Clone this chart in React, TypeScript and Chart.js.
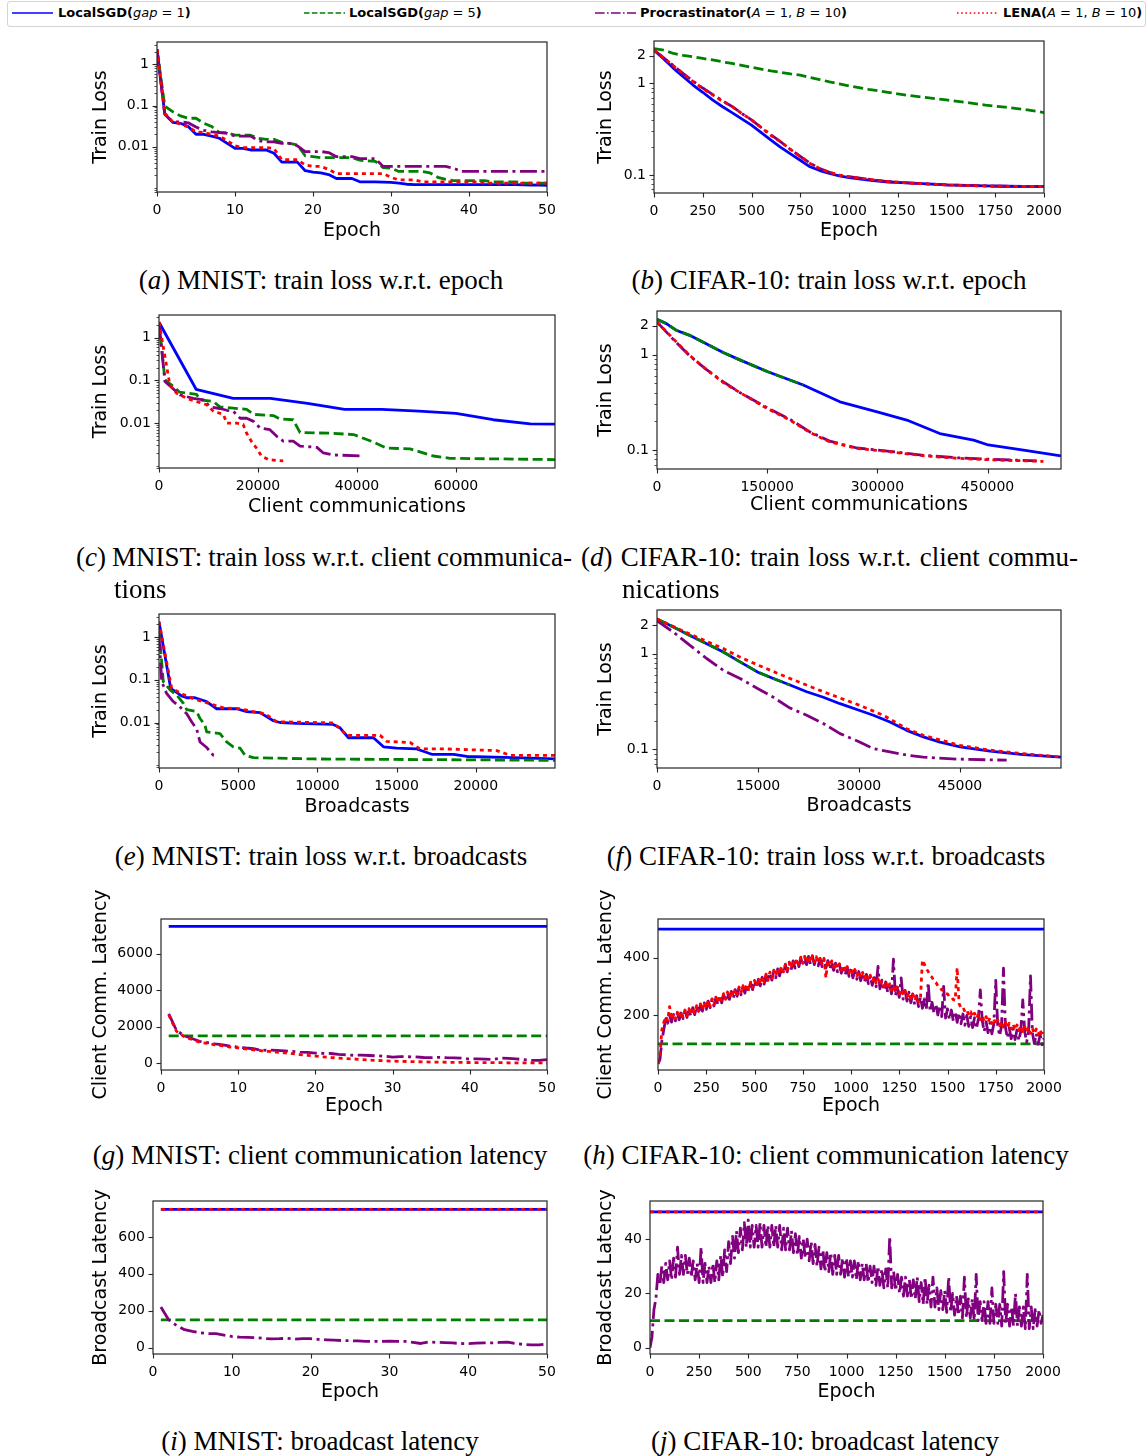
import React, { useEffect, useRef } from 'react';
import { Chart, registerables } from 'chart.js';

Chart.register(...registerables);

const SANS = "'DejaVu Sans', sans-serif";
const SERIF = "'Liberation Serif', 'Times New Roman', serif";

// ---------------- (a) MNIST: train loss vs epoch ----------------
const A_EPOCHS = Array.from({ length: 51 }, (_, i) => i);
const A_BLUE = [2.3, 0.061, 0.039, 0.037, 0.031, 0.02, 0.02, 0.018, 0.016, 0.012,
  0.0091, 0.0091, 0.0083, 0.0083, 0.0083, 0.0069, 0.0042, 0.0042, 0.0042, 0.0026,
  0.0024, 0.0023, 0.0021, 0.00168, 0.00168, 0.00168, 0.0014, 0.0014, 0.0014, 0.00138,
  0.00135, 0.0013, 0.00122, 0.0012, 0.0012, 0.0012, 0.0012, 0.0012, 0.0012, 0.0012,
  0.0012, 0.0012, 0.0012, 0.0012, 0.0012, 0.0012, 0.0012, 0.00118, 0.00117, 0.00116, 0.00115];
const A_GREEN = [2.3, 0.097, 0.071, 0.056, 0.049, 0.049, 0.037, 0.031, 0.022, 0.022,
  0.019, 0.019, 0.019, 0.016, 0.015, 0.015, 0.0128, 0.012, 0.011, 0.006,
  0.0057, 0.0054, 0.0054, 0.0054, 0.0054, 0.0054, 0.0047, 0.0045, 0.0044, 0.0031,
  0.003, 0.0025, 0.0025, 0.0025, 0.0025, 0.0023, 0.0018, 0.0016, 0.0015, 0.0015,
  0.0015, 0.0015, 0.0015, 0.0014, 0.0014, 0.0014, 0.0014, 0.0013, 0.0013, 0.0013, 0.0013];
const A_PURPLE = [2.3, 0.062, 0.04, 0.04, 0.038, 0.03, 0.025, 0.023, 0.022, 0.021,
  0.018, 0.018, 0.018, 0.014, 0.013, 0.013, 0.012, 0.012, 0.0105, 0.0076,
  0.0076, 0.0076, 0.0072, 0.0057, 0.0057, 0.0057, 0.0051, 0.0051, 0.0051, 0.0033,
  0.0033, 0.0033, 0.0033, 0.0033, 0.0033, 0.0033, 0.0033, 0.0033, 0.003, 0.0025,
  0.0025, 0.0025, 0.0025, 0.0025, 0.0025, 0.0025, 0.0025, 0.0025, 0.0025, 0.0025, 0.0025];
const A_RED = [2.3, 0.065, 0.04, 0.036, 0.03, 0.023, 0.022, 0.02, 0.018, 0.014,
  0.0105, 0.0095, 0.0095, 0.0095, 0.0095, 0.009, 0.0048, 0.0048, 0.0048, 0.0036,
  0.0033, 0.0033, 0.0028, 0.0022, 0.0022, 0.0022, 0.0022, 0.0022, 0.0022, 0.0022,
  0.0018, 0.00155, 0.00155, 0.00155, 0.0014, 0.0014, 0.0014, 0.0014, 0.0014, 0.0014,
  0.0014, 0.0014, 0.0013, 0.0013, 0.0013, 0.0013, 0.0013, 0.0013, 0.0013, 0.0013, 0.0013];

// ---------------- (b) CIFAR-10: train loss vs epoch ----------------
const B_EPOCHS = [0, 50, 100, 150, 200, 250, 300, 350, 400, 450, 500, 550, 600, 650, 700, 750,
  800, 850, 900, 950, 1000, 1100, 1200, 1300, 1400, 1500, 1600, 1700, 1800, 1900, 2000];
const B_BLUE = [2.3, 1.85, 1.46, 1.18, 0.96, 0.8, 0.66, 0.56, 0.48, 0.41, 0.35, 0.29, 0.24, 0.2, 0.17, 0.145,
  0.123, 0.112, 0.104, 0.098, 0.094, 0.088, 0.084, 0.082, 0.08, 0.078, 0.077, 0.076, 0.0755, 0.075, 0.075];
const B_GREEN = [2.4, 2.3, 2.12, 2.02, 1.95, 1.87, 1.8, 1.72, 1.65, 1.57, 1.5, 1.43, 1.37, 1.32, 1.27, 1.23,
  1.16, 1.1, 1.04, 0.99, 0.94, 0.86, 0.8, 0.74, 0.7, 0.66, 0.62, 0.58, 0.55, 0.52, 0.48];
const B_PURPLE = [2.3, 1.9, 1.56, 1.28, 1.06, 0.89, 0.76, 0.65, 0.56, 0.47, 0.4, 0.33, 0.275, 0.23, 0.19, 0.16,
  0.135, 0.118, 0.107, 0.1, 0.096, 0.09, 0.085, 0.082, 0.08, 0.078, 0.077, 0.076, 0.0755, 0.075, 0.075];
const B_RED = [2.3, 1.9, 1.55, 1.27, 1.05, 0.88, 0.75, 0.64, 0.56, 0.47, 0.4, 0.33, 0.27, 0.23, 0.19, 0.16,
  0.134, 0.118, 0.107, 0.1, 0.096, 0.09, 0.085, 0.082, 0.08, 0.078, 0.077, 0.076, 0.0755, 0.075, 0.075];

// ---------------- (c) MNIST: train loss vs client communications ----------------
const C_BLUE_X = [0, 7500, 15000, 22500, 30000, 37500, 45000, 52500, 60000, 67500, 75000, 82500];
const C_BLUE = [2.3, 0.062, 0.038, 0.038, 0.029, 0.021, 0.021, 0.019, 0.017, 0.012, 0.0096, 0.0094];
const C_GREEN_X = [0, 1200, 2900, 4200, 7600, 8300, 11000, 12300, 17700, 19100, 23100, 24400, 27100, 28500,
  34500, 39300, 43300, 46000, 50700, 55400, 58800, 80000];
const C_GREEN = [2.3, 0.103, 0.072, 0.053, 0.047, 0.035, 0.032, 0.024, 0.021, 0.016, 0.015, 0.0126, 0.012, 0.006,
  0.0058, 0.0054, 0.0036, 0.0026, 0.0025, 0.0017, 0.0015, 0.0014];
const C_PURPLE_X = [0, 1200, 4200, 6900, 9000, 10300, 12300, 13700, 15000, 16400, 17700, 19100, 20400, 22400,
  23800, 25100, 27100, 28500, 31900, 33200, 35200, 41300];
const C_PURPLE = [2.3, 0.094, 0.046, 0.038, 0.035, 0.024, 0.022, 0.02, 0.019, 0.013, 0.013, 0.011, 0.0077, 0.007,
  0.0049, 0.0038, 0.0038, 0.0029, 0.0027, 0.002, 0.0018, 0.0017];
const C_RED_X = [0, 2200, 3570, 5600, 7600, 9600, 11000, 13000, 13700, 15700, 17000, 17700, 18700, 19700, 20700, 22100, 25100];
const C_RED = [2.3, 0.078, 0.05, 0.038, 0.032, 0.027, 0.019, 0.016, 0.01, 0.01, 0.0093, 0.0058, 0.0037, 0.0026, 0.0017, 0.0014, 0.0013];

// ---------------- (d) CIFAR-10: train loss vs client communications ----------------
const D_BLUE_X = [0, 12700, 26000, 44500, 67000, 90000, 112700, 150900, 199000, 249000, 301000, 340000, 385000,
  431000, 451000, 499000, 550000];
const D_BLUE = [2.34, 2.11, 1.8, 1.59, 1.3, 1.05, 0.88, 0.66, 0.48, 0.32, 0.25, 0.206, 0.149, 0.127, 0.113, 0.1, 0.087];
const D_GREEN_X = [0, 12700, 26000, 44500, 67000, 90000, 112700, 150900, 199000];
const D_GREEN = [2.34, 2.11, 1.8, 1.59, 1.3, 1.05, 0.88, 0.66, 0.48];
const D_PURPLE_X = [0, 21800, 44500, 67000, 90000, 112700, 151000, 181000, 208000, 235000, 272000, 317000, 363000,
  408000, 454000, 517000];
const D_PURPLE = [2.2, 1.45, 0.97, 0.7, 0.52, 0.4, 0.275, 0.21, 0.155, 0.124, 0.105, 0.097, 0.088, 0.083, 0.08, 0.077];
const D_RED_X = [0, 21800, 44500, 67000, 90000, 112700, 151000, 181000, 208000, 235000, 272000, 317000, 363000,
  408000, 454000, 526000];
const D_RED = [2.2, 1.47, 0.98, 0.7, 0.51, 0.4, 0.27, 0.206, 0.153, 0.122, 0.104, 0.096, 0.087, 0.082, 0.079, 0.076];

// ---------------- (e) MNIST: train loss vs broadcasts ----------------
const E_BLUE_X = [0, 740, 1430, 1750, 2270, 3000, 3640, 4900, 5540, 6380, 7220, 7640, 8700, 11000, 11430, 11960,
  13540, 14170, 15000, 16270, 17220, 18600, 19430, 22380, 25000];
const E_BLUE = [2.3, 0.063, 0.042, 0.038, 0.038, 0.031, 0.021, 0.021, 0.018, 0.017, 0.011, 0.01, 0.0095, 0.009,
  0.0075, 0.0044, 0.0044, 0.0027, 0.0025, 0.0024, 0.0018, 0.0018, 0.0016, 0.0015, 0.0014];
const E_GREEN_X = [0, 270, 700, 1120, 1540, 1750, 2380, 2590, 2900, 3010, 3850, 4270, 4690, 5120, 5430, 5960, 9750, 25000];
const E_GREEN = [1.5, 0.091, 0.058, 0.044, 0.028, 0.02, 0.018, 0.0124, 0.0087, 0.006, 0.0055, 0.0035, 0.0027, 0.0025,
  0.0017, 0.0015, 0.0014, 0.0013];
const E_PURPLE_X = [0, 170, 480, 900, 1330, 1750, 2060, 2380, 2590, 3010, 3430, 3540];
const E_PURPLE = [1.2, 0.091, 0.048, 0.031, 0.023, 0.016, 0.0104, 0.007, 0.0035, 0.0026, 0.0017, 0.0017];
const E_RED_X = [0, 800, 1540, 2380, 3430, 4060, 5120, 5960, 6700, 7430, 11000, 11640, 11850, 13960, 14380, 15850,
  16480, 18170, 21330, 22170, 25000];
const E_RED = [2.3, 0.063, 0.045, 0.034, 0.026, 0.022, 0.021, 0.018, 0.016, 0.0104, 0.0098, 0.006, 0.005, 0.005,
  0.0036, 0.0034, 0.0024, 0.0024, 0.0022, 0.0017, 0.0017];

// ---------------- (f) CIFAR-10: train loss vs broadcasts ----------------
const F_BLUE_X = [0, 2430, 4900, 7380, 9850, 12330, 15000, 17280, 19750, 22230, 24700, 27180, 30000, 32130, 34600,
  37080, 39550, 42030, 45000, 49460, 54400, 60000];
const F_BLUE = [2.3, 1.9, 1.55, 1.27, 1.04, 0.82, 0.64, 0.55, 0.47, 0.4, 0.35, 0.3, 0.256, 0.227, 0.193, 0.158,
  0.135, 0.119, 0.106, 0.096, 0.088, 0.083];
const F_GREEN_X = [0, 2430, 4900, 7380, 9850, 12330, 15000, 17280, 19750];
const F_GREEN = [2.3, 1.9, 1.55, 1.27, 1.04, 0.82, 0.64, 0.55, 0.47];
const F_PURPLE_X = [0, 2430, 4900, 7380, 9850, 12330, 15000, 17280, 19750, 22230, 24700, 27180, 30000, 32130, 34600,
  37080, 39550, 44500, 51930];
const F_PURPLE = [2.2, 1.68, 1.22, 0.89, 0.67, 0.55, 0.43, 0.35, 0.27, 0.227, 0.186, 0.146, 0.12, 0.102, 0.094,
  0.087, 0.083, 0.079, 0.077];
const F_RED_X = [0, 4900, 9850, 12330, 15000, 19750, 24700, 30000, 33600, 37080, 39550, 45000, 49460, 54400, 60000];
const F_RED = [2.3, 1.6, 1.13, 0.92, 0.76, 0.55, 0.4, 0.29, 0.227, 0.164, 0.14, 0.11, 0.098, 0.09, 0.083];

// ---------------- (g) MNIST: client communication latency ----------------
const G_EPOCHS = Array.from({ length: 50 }, (_, i) => i + 1);
const G_FLAT_X = [1, 50];
const G_BLUE = [7500, 7500];
const G_GREEN = [1500, 1500];
const G_PURPLE = [2700, 1800, 1500, 1350, 1200, 1130, 1060, 1000, 930, 880,
  830, 790, 700, 720, 700, 670, 640, 610, 590, 550,
  540, 530, 480, 460, 430, 440, 420, 400, 380, 330,
  360, 350, 340, 310, 300, 320, 300, 290, 270, 220,
  240, 220, 200, 280, 260, 230, 190, 150, 150, 190];
const G_RED = [2650, 1750, 1450, 1300, 1150, 1080, 1000, 950, 880, 840,
  780, 730, 680, 640, 600, 560, 520, 470, 430, 390,
  350, 310, 280, 250, 230, 200, 170, 150, 130, 110,
  100, 90, 80, 70, 60, 55, 50, 45, 40, 35,
  30, 30, 25, 25, 20, 20, 20, 20, 20, 20];

// ---------------- (h) CIFAR-10: client communication latency ----------------
const H_EPOCHS = Array.from({ length: 201 }, (_, i) => i * 10);
const H_FLAT_X = [0, 2000];
const H_BLUE = [500, 500];
const H_GREEN = [100, 100];
const H_PURPLE = [30, 45, 110, 150, 187, 172, 199, 176, 203, 180,
  208, 184, 212, 188, 215, 192, 220, 197, 226, 202,
  231, 208, 237, 214, 243, 220, 249, 226, 255, 232,
  261, 238, 267, 243, 272, 249, 278, 255, 283, 260,
  289, 266, 295, 271, 300, 277, 306, 283, 312, 289,
  318, 295, 325, 302, 332, 308, 340, 315, 347, 322,
  354, 330, 361, 337, 368, 344, 375, 351, 382, 358,
  389, 364, 394, 369, 400, 374, 403, 376, 405, 378,
  406, 376, 402, 372, 398, 369, 395, 365, 390, 360,
  386, 356, 381, 351, 376, 346, 372, 340, 367, 335,
  362, 330, 357, 325, 352, 320, 347, 315, 342, 310,
  337, 304, 331, 299, 370, 292, 322, 286, 316, 280,
  310, 274, 395, 268, 298, 262, 330, 256, 286, 249,
  280, 243, 274, 237, 268, 230, 262, 224, 257, 219,
  314, 213, 245, 207, 239, 201, 234, 195, 300, 190,
  222, 185, 218, 180, 213, 175, 208, 170, 204, 165,
  199, 161, 195, 157, 191, 153, 187, 288, 182, 143,
  177, 139, 173, 135, 169, 321, 165, 128, 162, 364,
  159, 121, 156, 118, 153, 115, 149, 112, 146, 253,
  143, 106, 140, 337, 138, 101, 136, 99, 133, 97,
  120];
const H_RED = [33, 60, 150, 175, 195, 182, 230, 185, 205, 188,
  210, 190, 214, 194, 218, 198, 223, 203, 228, 208,
  233, 213, 239, 219, 245, 225, 251, 231, 257, 237,
  263, 243, 269, 249, 275, 255, 281, 261, 286, 266,
  292, 272, 298, 278, 303, 283, 309, 289, 315, 295,
  321, 301, 328, 308, 335, 315, 343, 322, 350, 329,
  357, 337, 364, 344, 371, 351, 378, 358, 385, 365,
  392, 371, 397, 376, 402, 381, 405, 383, 407, 385,
  407, 385, 404, 382, 401, 379, 398, 330, 393, 371,
  389, 367, 384, 362, 379, 357, 374, 352, 369, 347,
  364, 342, 359, 337, 354, 332, 349, 327, 344, 322,
  339, 317, 333, 311, 327, 305, 321, 299, 315, 293,
  309, 287, 303, 281, 297, 275, 291, 269, 285, 263,
  279, 257, 273, 251, 267, 245, 260, 392, 378, 362,
  352, 338, 332, 318, 314, 302, 299, 288, 286, 276,
  274, 264, 263, 254, 252, 365, 240, 226, 228, 212,
  218, 200, 212, 194, 207, 189, 203, 184, 199, 179,
  195, 175, 191, 171, 187, 167, 183, 163, 179, 159,
  176, 156, 172, 152, 169, 149, 166, 146, 163, 143,
  160, 140, 157, 137, 155, 135, 152, 132, 150, 128,
  140];

// ---------------- (i) MNIST: broadcast latency ----------------
const I_EPOCHS = Array.from({ length: 50 }, (_, i) => i + 1);
const I_FLAT_X = [1, 50];
const I_BLUE = [750, 750];
const I_RED = [750, 750];
const I_GREEN = [150, 150];
const I_PURPLE = [220, 150, 120, 97, 88, 80, 76, 75, 68, 60,
  56, 55, 54, 50, 47, 48, 50, 46, 48, 48,
  44, 42, 40, 38, 37, 36, 34, 33, 33, 35,
  34, 33, 28, 22, 30, 28, 27, 25, 22, 21,
  24, 25, 25, 28, 29, 22, 17, 15, 14, 20];

// ---------------- (j) CIFAR-10: broadcast latency ----------------
const J_EPOCHS = Array.from({ length: 201 }, (_, i) => i * 10);
const J_FLAT_X = [0, 2000];
const J_BLUE = [50, 50];
const J_RED = [50, 50];
const J_GREEN = [10, 10];
const J_PURPLE = [0, 4, 14, 18, 27, 23, 30, 24, 31, 25,
  32, 25, 33, 26, 37, 27, 34, 27, 34, 27,
  33, 26, 32, 25, 31, 24, 37, 24, 31, 24,
  30, 24, 31, 24, 32, 25, 34, 26, 36, 28,
  39, 31, 41, 33, 43, 35, 44, 36, 46, 37,
  47, 37, 45, 37, 45, 37, 46, 37, 45, 37,
  45, 37, 45, 37, 45, 37, 45, 36, 44, 36,
  44, 36, 43, 35, 42, 34, 41, 33, 40, 33,
  40, 32, 39, 31, 38, 30, 37, 29, 36, 28,
  35, 28, 35, 27, 34, 27, 34, 27, 33, 26,
  33, 26, 32, 26, 32, 25, 32, 25, 31, 25,
  31, 24, 30, 24, 30, 23, 30, 23, 29, 22,
  29, 22, 41, 22, 28, 21, 27, 20, 26, 19,
  26, 19, 25, 18, 25, 18, 26, 17, 24, 16,
  26, 16, 23, 15, 26, 15, 22, 14, 21, 14,
  21, 13, 26, 13, 20, 12, 19, 12, 19, 11,
  26, 11, 18, 11, 18, 10, 27, 10, 17, 10,
  17, 9, 17, 9, 22, 9, 16, 9, 16, 8,
  28, 9, 16, 8, 15, 8, 20, 8, 15, 8,
  15, 7, 27, 7, 15, 7, 14, 8, 14, 9,
  12];

// ---------------- ticks ----------------
const TICKS_EPOCH50 = [0, 10, 20, 30, 40, 50];
const TICKS_EPOCH2000 = [0, 250, 500, 750, 1000, 1250, 1500, 1750, 2000];
const TICKS_C = [0, 20000, 40000, 60000];
const TICKS_D = [0, 150000, 300000, 450000];
const TICKS_E = [0, 5000, 10000, 15000, 20000];
const TICKS_F = [0, 15000, 30000, 45000];
const YT_MNIST_LOSS: [number, string][] = [[1, '1'], [0.1, '0.1'], [0.01, '0.01']];
const YT_CIFAR_LOSS: [number, string][] = [[2, '2'], [1, '1'], [0.1, '0.1']];
const YT_G: [number, string][] = [[0, '0'], [2000, '2000'], [4000, '4000'], [6000, '6000']];
const YT_H: [number, string][] = [[200, '200'], [400, '400']];
const YT_I: [number, string][] = [[0, '0'], [200, '200'], [400, '400'], [600, '600']];
const YT_J: [number, string][] = [[0, '0'], [20, '20'], [40, '40']];

const LEGEND_LABELS = ['LocalSGD', 'LocalSGD', 'Procrastinator', 'LENA'];

// ---------------- styles ----------------
const STYLE: any = {
  blue: { color: '#0000ff', dash: [], order: 4 },
  green: { color: '#008000', dash: [10, 4.5], order: 3 },
  purple: { color: '#800080', dash: [17, 4.5, 3, 4.5], order: 2 },
  red: { color: '#ff0000', dash: [4, 4], order: 1 },
};
const LW = 2.8;
const AXIS_COLOR = '#262626';

const s = (key: string, x: number[], y: number[]) => ({ key, x, y });

const PANELS: any[] = [
  { xTitle: 'Epoch', yTitle: 'Train Loss', xMin: 0, xMax: 50, xTicks: TICKS_EPOCH50, yLog: true, yMin: 0.00079, yMax: 3.5, yTicks: YT_MNIST_LOSS,
    series: [s('blue', A_EPOCHS, A_BLUE), s('green', A_EPOCHS, A_GREEN), s('purple', A_EPOCHS, A_PURPLE), s('red', A_EPOCHS, A_RED)] },
  { xTitle: 'Epoch', yTitle: 'Train Loss', xMin: 0, xMax: 2000, xTicks: TICKS_EPOCH2000, yLog: true, yMin: 0.0637, yMax: 2.9, yTicks: YT_CIFAR_LOSS,
    series: [s('blue', B_EPOCHS, B_BLUE), s('green', B_EPOCHS, B_GREEN), s('purple', B_EPOCHS, B_PURPLE), s('red', B_EPOCHS, B_RED)] },
  { xTitle: 'Client communications', yTitle: 'Train Loss', xMin: 0, xMax: 80000, xTicks: TICKS_C, yLog: true, yMin: 0.00089, yMax: 3.4, yTicks: YT_MNIST_LOSS,
    series: [s('blue', C_BLUE_X, C_BLUE), s('green', C_GREEN_X, C_GREEN), s('purple', C_PURPLE_X, C_PURPLE), s('red', C_RED_X, C_RED)] },
  { xTitle: 'Client communications', yTitle: 'Train Loss', xMin: 0, xMax: 550000, xTicks: TICKS_D, yLog: true, yMin: 0.0633, yMax: 2.86, yTicks: YT_CIFAR_LOSS,
    series: [s('blue', D_BLUE_X, D_BLUE), s('green', D_GREEN_X, D_GREEN), s('purple', D_PURPLE_X, D_PURPLE), s('red', D_RED_X, D_RED)] },
  { xTitle: 'Broadcasts', yTitle: 'Train Loss', xMin: 0, xMax: 25000, xTicks: TICKS_E, yLog: true, yMin: 0.00086, yMax: 3.48, yTicks: YT_MNIST_LOSS,
    series: [s('blue', E_BLUE_X, E_BLUE), s('green', E_GREEN_X, E_GREEN), s('purple', E_PURPLE_X, E_PURPLE), s('red', E_RED_X, E_RED)] },
  { xTitle: 'Broadcasts', yTitle: 'Train Loss', xMin: 0, xMax: 60000, xTicks: TICKS_F, yLog: true, yMin: 0.0638, yMax: 2.86, yTicks: YT_CIFAR_LOSS,
    series: [s('blue', F_BLUE_X, F_BLUE), s('green', F_GREEN_X, F_GREEN), s('purple', F_PURPLE_X, F_PURPLE), s('red', F_RED_X, F_RED)] },
  { xTitle: 'Epoch', yTitle: 'Client Comm. Latency', xMin: 0, xMax: 50, xTicks: TICKS_EPOCH50, yLog: false, yMin: -375, yMax: 7900, yTicks: YT_G,
    series: [s('blue', G_FLAT_X, G_BLUE), s('green', G_FLAT_X, G_GREEN), s('purple', G_EPOCHS, G_PURPLE), s('red', G_EPOCHS, G_RED)] },
  { xTitle: 'Epoch', yTitle: 'Client Comm. Latency', xMin: 0, xMax: 2000, xTicks: TICKS_EPOCH2000, yLog: false, yMin: 9, yMax: 535, yTicks: YT_H,
    series: [s('blue', H_FLAT_X, H_BLUE), s('green', H_FLAT_X, H_GREEN), s('purple', H_EPOCHS, H_PURPLE), s('red', H_EPOCHS, H_RED)] },
  { xTitle: 'Epoch', yTitle: 'Broadcast Latency', xMin: 0, xMax: 50, xTicks: TICKS_EPOCH50, yLog: false, yMin: -35, yMax: 795, yTicks: YT_I,
    series: [s('blue', I_FLAT_X, I_BLUE), s('green', I_FLAT_X, I_GREEN), s('purple', I_EPOCHS, I_PURPLE), s('red', I_FLAT_X, I_RED)] },
  { xTitle: 'Epoch', yTitle: 'Broadcast Latency', xMin: 0, xMax: 2000, xTicks: TICKS_EPOCH2000, yLog: false, yMin: -2.3, yMax: 54, yTicks: YT_J,
    series: [s('blue', J_FLAT_X, J_BLUE), s('green', J_FLAT_X, J_GREEN), s('purple', J_EPOCHS, J_PURPLE), s('red', J_FLAT_X, J_RED)] },
];

// plot boxes: l, t, r, b ; y-title centre x ; x-title centre y ; top pad
const LAYOUT = [
  { l: 157, t: 42, r: 547, b: 192, ytx: 101, xty: 230.5, pad: 14 },
  { l: 654, t: 41, r: 1044, b: 193, ytx: 606, xty: 230.5, pad: 14 },
  { l: 159, t: 315, r: 555, b: 468, ytx: 101, xty: 507, pad: 14 },
  { l: 657, t: 311, r: 1061, b: 469, ytx: 606, xty: 505, pad: 14 },
  { l: 159, t: 614, r: 555, b: 768, ytx: 101, xty: 806.5, pad: 14 },
  { l: 657, t: 610, r: 1061, b: 768, ytx: 606, xty: 805.5, pad: 14 },
  { l: 161, t: 919, r: 547, b: 1070, ytx: 101, xty: 1106, pad: 40 },
  { l: 658, t: 919, r: 1044, b: 1070, ytx: 606, xty: 1106, pad: 40 },
  { l: 153, t: 1201, r: 547, b: 1354, ytx: 101, xty: 1391.5, pad: 22 },
  { l: 650, t: 1201, r: 1043, b: 1354, ytx: 606, xty: 1392, pad: 22 },
];

const PAD_R = 26;
const TITLE_SIZE = 19;
const TICK_SIZE = 14;
const HALF_LH = (TITLE_SIZE * 1.2) / 2;

function logTickValues(min: number, max: number) {
  const out: number[] = [];
  for (let e = Math.floor(Math.log10(min)); e <= Math.ceil(Math.log10(max)); e++) {
    for (let d = 1; d <= 9; d++) {
      const v = Number((d * Math.pow(10, e)).toPrecision(6));
      if (v >= min && v <= max) out.push(v);
    }
  }
  return out;
}

function findLabel(pairs: [number, string][], v: number) {
  for (const [pv, lab] of pairs) {
    if (Math.abs(pv - v) <= Math.abs(pv) * 1e-6 + 1e-12) return lab;
  }
  return null;
}

const tickPlugin = {
  id: 'mplFrame',
  afterDatasetsDraw(chart: any) {
    const { ctx, chartArea } = chart;
    const { left, top, right, bottom } = chartArea;
    ctx.save();
    ctx.strokeStyle = AXIS_COLOR;
    const xs = chart.scales.x;
    for (const t of xs.ticks) {
      const px = Math.round(xs.getPixelForValue(t.value)) + 0.5;
      ctx.lineWidth = 1.1;
      ctx.beginPath();
      ctx.moveTo(px, bottom);
      ctx.lineTo(px, bottom + 4.5);
      ctx.stroke();
    }
    const ys = chart.scales.y;
    for (const t of ys.ticks) {
      const py = Math.round(ys.getPixelForValue(t.value)) + 0.5;
      const major = t.major;
      ctx.lineWidth = major ? 1.1 : 0.8;
      ctx.beginPath();
      ctx.moveTo(left, py);
      ctx.lineTo(left - (major ? 4.5 : 2.5), py);
      ctx.stroke();
    }
    ctx.lineWidth = 1.2;
    ctx.strokeRect(left, top, right - left, bottom - top);
    ctx.restore();
  },
};

function geometry(lay: any) {
  const left = Math.round(lay.ytx - HALF_LH);
  const top = lay.t - lay.pad;
  const bottom = Math.round(lay.xty + HALF_LH);
  const w = lay.r + PAD_R - left;
  const h = bottom - top;
  return { left, top, w, h, wy: lay.l - left, hx: bottom - lay.b, pad: lay.pad };
}

function buildConfig(p: any, g: any) {
  const datasets = p.series.map((sr: any) => ({
    data: sr.x.map((x: number, i: number) => ({ x, y: sr.y[i] })),
    borderColor: STYLE[sr.key].color,
    backgroundColor: STYLE[sr.key].color,
    borderDash: STYLE[sr.key].dash,
    borderWidth: LW,
    borderCapStyle: 'butt',
    borderJoinStyle: 'round',
    pointRadius: 0,
    fill: false,
    tension: 0,
    order: STYLE[sr.key].order,
  }));
  const majorVals = p.yTicks.map((t: any) => t[0]);
  const yTickValues = p.yLog ? logTickValues(p.yMin, p.yMax) : majorVals;
  return {
    type: 'line',
    data: { datasets },
    plugins: [tickPlugin],
    options: {
      responsive: false,
      maintainAspectRatio: false,
      animation: false,
      devicePixelRatio: 1,
      events: [],
      layout: { padding: { left: 0, top: g.pad, right: PAD_R, bottom: 0 } },
      plugins: { legend: { display: false }, tooltip: { enabled: false } },
      scales: {
        x: {
          type: 'linear',
          position: 'bottom',
          min: p.xMin,
          max: p.xMax,
          afterBuildTicks: (sc: any) => {
            sc.ticks = p.xTicks.map((v: number) => ({ value: v, major: true }));
          },
          afterFit: (sc: any) => { sc.height = g.hx; },
          grid: { display: false },
          border: { display: false },
          ticks: {
            autoSkip: false, maxRotation: 0, padding: 2, color: '#000',
            font: { family: SANS, size: TICK_SIZE },
            callback: (v: number) => String(v),
          },
          title: { display: true, text: p.xTitle, color: '#000', font: { family: SANS, size: TITLE_SIZE }, padding: 0 },
        },
        y: {
          type: p.yLog ? 'logarithmic' : 'linear',
          position: 'left',
          min: p.yMin,
          max: p.yMax,
          afterBuildTicks: (sc: any) => {
            sc.ticks = yTickValues.map((v: number) => ({ value: v, major: findLabel(p.yTicks, v) !== null }));
          },
          afterFit: (sc: any) => { sc.width = g.wy; },
          grid: { display: false },
          border: { display: false },
          ticks: {
            autoSkip: false, padding: 0, color: '#000',
            font: { family: SANS, size: TICK_SIZE },
            callback: (v: number) => findLabel(p.yTicks, v) ?? '',
          },
          title: { display: true, text: p.yTitle, color: '#000', font: { family: SANS, size: TITLE_SIZE }, padding: 0 },
        },
      },
    },
  };
}

function ChartPanel({ panel, lay }: { panel: any; lay: any }) {
  const ref = useRef<HTMLCanvasElement>(null);
  const g = geometry(lay);
  useEffect(() => {
    const chart = new Chart(ref.current as HTMLCanvasElement, buildConfig(panel, g) as any);
    return () => chart.destroy();
  }, []);
  return (
    <canvas
      ref={ref}
      width={g.w}
      height={g.h}
      style={{ position: 'absolute', left: g.left, top: g.top, width: g.w, height: g.h }}
    />
  );
}

const CAP_SIZE = 27;
const CAP_LH = 31;
const CAPTION_STYLE: React.CSSProperties = {
  position: 'absolute', fontFamily: SERIF, fontSize: CAP_SIZE, lineHeight: CAP_LH + 'px', color: '#000', whiteSpace: 'nowrap',
};

function Cap({ letter, text, cx, cy }: { letter: string; text: string; cx: number; cy: number }) {
  return (
    <div style={{ ...CAPTION_STYLE, left: cx, top: cy - CAP_LH / 2, transform: 'translateX(-50%)' }}>
      (<i>{letter}</i>) {text}
    </div>
  );
}

function CapJustified({ letter, words, line2, x1, x2, xIndent, cy }: any) {
  return (
    <>
      <div style={{ ...CAPTION_STYLE, left: x1, top: cy - CAP_LH / 2, width: x2 - x1, display: 'flex', justifyContent: 'space-between' }}>
        <span>(<i>{letter}</i>)</span>
        {words.map((w: string, i: number) => (<span key={i}>{w}</span>))}
      </div>
      <div style={{ ...CAPTION_STYLE, left: xIndent, top: cy + 32 - CAP_LH / 2 }}>{line2}</div>
    </>
  );
}

function LegendLine({ color, dash }: { color: string; dash: string }) {
  return (
    <svg width={41} height={10} style={{ display: 'block' }}>
      <line x1={0} y1={5} x2={41} y2={5} stroke={color} strokeWidth={1.6} strokeDasharray={dash} />
    </svg>
  );
}

const LEG_TEXT: React.CSSProperties = { position: 'absolute', top: 5, fontFamily: SANS, fontSize: 13, lineHeight: '16px', whiteSpace: 'nowrap', color: '#000' };

function Legend() {
  const items = [
    { lx: 12, tx: 58, color: '#0000ff', dash: '', body: (<><b>{LEGEND_LABELS[0]}(</b><i>gap</i> = 1<b>)</b></>) },
    { lx: 304, tx: 349, color: '#008000', dash: '5.5 2.4', body: (<><b>{LEGEND_LABELS[1]}(</b><i>gap</i> = 5<b>)</b></>) },
    { lx: 595, tx: 640, color: '#800080', dash: '9.6 2.4 1.6 2.4', body: (<><b>{LEGEND_LABELS[2]}(</b><i>A</i> = 1, <i>B</i> = 10<b>)</b></>) },
    { lx: 957, tx: 1003, color: '#ff0000', dash: '1.6 2.6', body: (<><b>{LEGEND_LABELS[3]}(</b><i>A</i> = 1, <i>B</i> = 10<b>)</b></>) },
  ];
  return (
    <>
      <div style={{ position: 'absolute', left: 7, top: 1, width: 1139, height: 26, border: '1px solid #d4d4d4', borderRadius: 3, boxSizing: 'border-box', background: '#fff' }} />
      {items.map((it, i) => (
        <React.Fragment key={i}>
          <div style={{ position: 'absolute', left: it.lx, top: 8 }}><LegendLine color={it.color} dash={it.dash} /></div>
          <div style={LEG_TEXT}>
            <span style={{ position: 'absolute', left: it.tx, top: 0 }}>{it.body}</span>
          </div>
        </React.Fragment>
      ))}
    </>
  );
}

export default function App() {
  return (
    <div style={{ position: 'absolute', left: 0, top: 0, width: 1148, height: 1456, background: '#fff', overflow: 'hidden' }}>
      <Legend />
      {PANELS.map((p, i) => (
        <ChartPanel key={i} panel={p} lay={LAYOUT[i]} />
      ))}
      <Cap letter="a" text="MNIST: train loss w.r.t. epoch" cx={321} cy={280} />
      <Cap letter="b" text="CIFAR-10: train loss w.r.t. epoch" cx={829} cy={280} />
      <CapJustified letter="c" words={['MNIST:', 'train', 'loss', 'w.r.t.', 'client', 'communica-']} line2="tions" x1={76} x2={572} xIndent={114} cy={557} />
      <CapJustified letter="d" words={['CIFAR-10:', 'train', 'loss', 'w.r.t.', 'client', 'commu-']} line2="nications" x1={581} x2={1078} xIndent={622} cy={557} />
      <Cap letter="e" text="MNIST: train loss w.r.t. broadcasts" cx={321} cy={856} />
      <Cap letter="f" text="CIFAR-10: train loss w.r.t. broadcasts" cx={826} cy={856} />
      <Cap letter="g" text="MNIST: client communication latency" cx={320} cy={1155} />
      <Cap letter="h" text="CIFAR-10: client communication latency" cx={826} cy={1155} />
      <Cap letter="i" text="MNIST: broadcast latency" cx={320} cy={1441} />
      <Cap letter="j" text="CIFAR-10: broadcast latency" cx={825} cy={1441} />
    </div>
  );
}
